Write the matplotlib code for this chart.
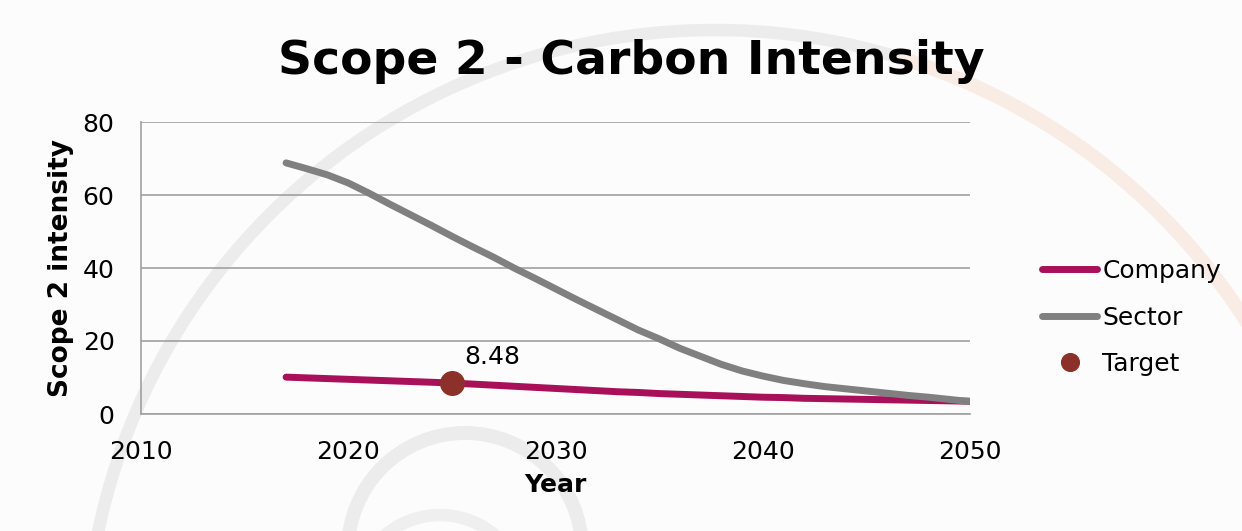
import matplotlib
matplotlib.use("Agg")
import matplotlib.pyplot as plt
from matplotlib.patches import Arc

# Scope 2 carbon intensity pathways
years = list(range(2017, 2051))
company = [10.1, 9.9, 9.7, 9.5, 9.3, 9.1, 8.9, 8.7, 8.48, 8.2,
           7.9, 7.6, 7.3, 7.0, 6.7, 6.4, 6.1, 5.9, 5.6, 5.4,
           5.2, 5.0, 4.8, 4.6, 4.5, 4.3, 4.2, 4.1, 4.0, 3.9,
           3.8, 3.7, 3.6, 3.5]
sector = [68.8, 67.2, 65.5, 63.3, 60.5, 57.5, 54.6, 51.7, 48.7, 45.8,
          43.0, 40.0, 37.2, 34.3, 31.4, 28.6, 25.8, 23.0, 20.6, 18.0,
          15.8, 13.6, 11.8, 10.4, 9.2, 8.3, 7.5, 6.9, 6.3, 5.7,
          5.1, 4.6, 4.0, 3.4]
target_year = [2025]
target_value = [8.48]
x_ticks = [2010, 2020, 2030, 2040, 2050]
y_ticks = [0, 20, 40, 60, 80]

plt.rcParams['font.family'] = ['DejaVu Sans']

fig = plt.figure(figsize=(12.42, 5.31), dpi=100, facecolor="#fcfcfc")

# faint watermark arcs in the background (pixel coordinates)
bg = fig.add_axes([0, 0, 1, 1], zorder=-1)
bg.set_xlim(0, 1242)
bg.set_ylim(531, 0)
bg.axis("off")
bg.add_patch(Arc((715, 660), 1260, 1260, theta1=180, theta2=287,
                 color="#ececec", lw=9))
bg.add_patch(Arc((715, 660), 1260, 1260, theta1=287, theta2=340,
                 color="#f8ece4", lw=10))
bg.add_patch(Arc((465, 550), 234, 234, theta1=180, theta2=360,
                 color="#ececec", lw=10))
bg.add_patch(Arc((440, 600), 170, 170, theta1=200, theta2=340,
                 color="#efefef", lw=9))

ax = fig.add_axes([141 / 1242, 1 - 414 / 531, (970 - 141) / 1242, (414 - 122) / 531])
ax.set_facecolor("none")

ax.plot(years, company, color="#a8105a", lw=5, label="Company", solid_capstyle="round")
ax.plot(years, sector, color="#808080", lw=5, label="Sector", solid_capstyle="round")
ax.plot(target_year, target_value, "o", color="#8b3129", ms=17, label="Target", zorder=5)
ax.annotate(f"{target_value[0]:.2f}", (target_year[0], target_value[0]),
            xytext=(9, 14), textcoords="offset points", fontsize=18)

ax.set_xlim(2010, 2050)
ax.set_ylim(0, 80)
ax.set_xticks(x_ticks)
ax.set_yticks(y_ticks)
ax.tick_params(length=0, labelsize=18)
ax.tick_params(axis="x", pad=19)
ax.tick_params(axis="y", pad=19)
ax.grid(axis="y", color="#a0a0a0", lw=1.2)
for s in ["top", "right"]:
    ax.spines[s].set_visible(False)
for s in ["left", "bottom"]:
    ax.spines[s].set_color("#a0a0a0")
    ax.spines[s].set_linewidth(1.2)

ax.set_xlabel("Year", fontsize=18, fontweight="bold", labelpad=6)
ax.set_ylabel("Scope 2 intensity", fontsize=19, fontweight="bold", labelpad=6)

fig.text(631 / 1242, 1 - 62 / 531, "Scope 2 - Carbon Intensity", ha="center", va="center",
         fontsize=34, fontweight="bold")

ax.legend(loc="center left", bbox_to_anchor=(1.06, 0.33), frameon=False, fontsize=18,
          handlelength=2.2, handletextpad=0.2, labelspacing=0.9, markerscale=0.75)

fig.savefig("out.png", dpi=100, facecolor=fig.get_facecolor())
